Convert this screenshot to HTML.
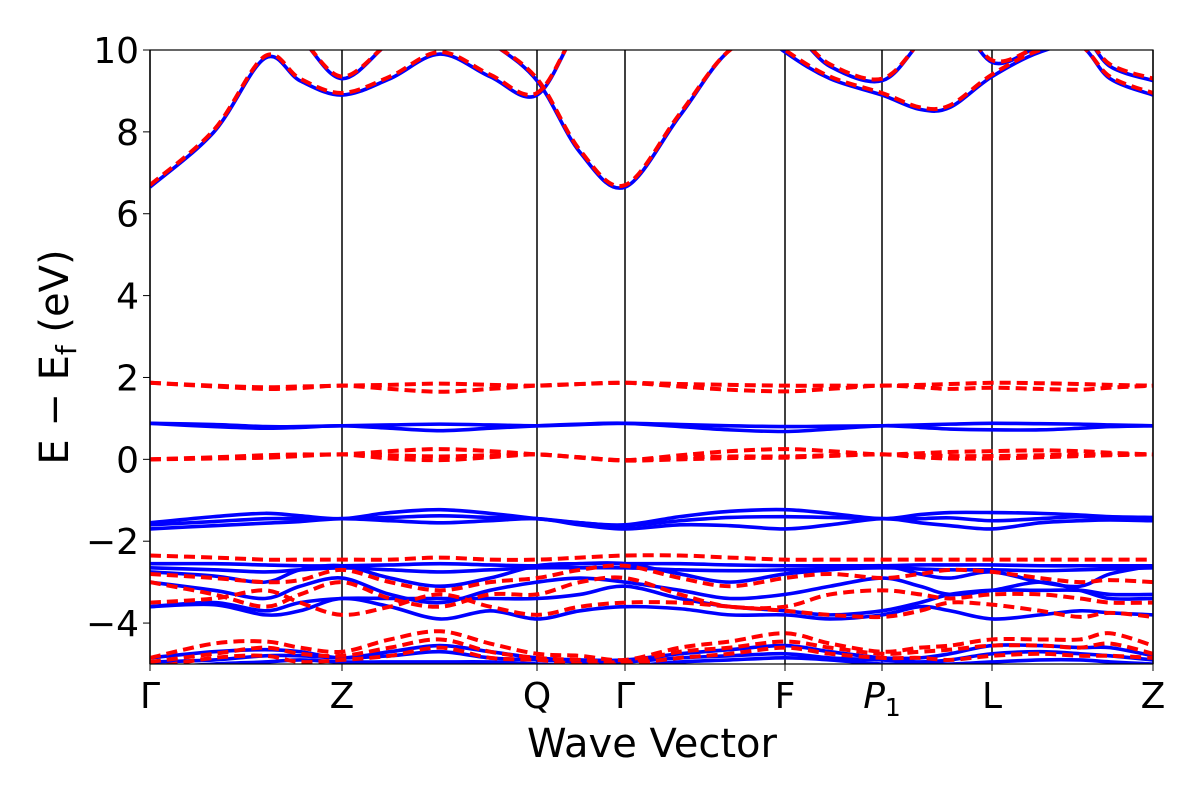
<!DOCTYPE html>
<html><head><meta charset="utf-8"><style>
body{margin:0;background:#fff}
svg text{font-family:"DejaVu Sans","Liberation Sans",sans-serif;fill:#000}
</style></head><body>
<svg id="chart" width="1200" height="800" viewBox="0 0 1200 800" xmlns="http://www.w3.org/2000/svg">
<defs><clipPath id="clip"><rect x="150" y="50" width="1003" height="614"/></clipPath></defs>
<rect width="1200" height="800" fill="#fff"/>
<g id="vlines"></g>
<g id="bands" clip-path="url(#clip)"></g>
<rect x="150" y="50" width="1003" height="614" fill="none" stroke="#000" stroke-width="1.2"/>
<g id="yticks"></g>
<g id="xticks"></g>
<text x="652" y="757" font-size="40" text-anchor="middle">Wave Vector</text>
<text transform="translate(68,357) rotate(-90)" font-size="40" text-anchor="middle">E − E<tspan font-size="28" dy="8">f</tspan><tspan dy="-8"> (eV)</tspan></text>
</svg>
<script>
const kPoints=[0,0.64,1.15,1.5,1.92,2.4,2.9,3.4,3.87,4.3,4.75,5.3,5.8,6.35,6.8,7.32,7.7,8.0,8.42,8.9,9.3,9.6,10.03];
const symPos=[0,1.92,3.87,4.75,6.35,7.32,8.42,10.03];
const symLabels=["Γ","Z","Q","Γ","F","P1","L","Z"];
const yTicks=[10,8,6,4,2,0,-2,-4];
const blueBands=[
[6.65,8.0,9.8,9.25,8.9,9.3,9.9,9.35,8.9,10.6,11.5,11.5,11,9.95,9.3,8.9,8.55,8.6,9.35,9.95,10.1,9.3,8.9],
[11,11,10.8,10.3,9.3,10.2,11,10.2,9.25,7.5,6.65,8.4,10,10.5,9.6,9.25,10.2,11,9.7,10.1,10.4,9.6,9.25],
[0.88,0.85,0.8,0.8,0.82,0.84,0.86,0.84,0.82,0.85,0.88,0.85,0.82,0.8,0.81,0.82,0.84,0.86,0.88,0.87,0.86,0.84,0.82],
[0.88,0.8,0.76,0.78,0.82,0.76,0.7,0.76,0.82,0.86,0.88,0.8,0.72,0.68,0.74,0.82,0.78,0.74,0.72,0.72,0.76,0.8,0.82],
[-1.55,-1.4,-1.32,-1.38,-1.45,-1.3,-1.23,-1.32,-1.45,-1.55,-1.6,-1.4,-1.27,-1.23,-1.32,-1.45,-1.35,-1.3,-1.3,-1.32,-1.36,-1.4,-1.42],
[-1.6,-1.52,-1.45,-1.45,-1.45,-1.42,-1.38,-1.42,-1.45,-1.55,-1.62,-1.5,-1.42,-1.4,-1.42,-1.45,-1.45,-1.43,-1.5,-1.45,-1.4,-1.45,-1.5],
[-1.7,-1.62,-1.56,-1.52,-1.45,-1.5,-1.55,-1.5,-1.45,-1.6,-1.7,-1.6,-1.62,-1.7,-1.6,-1.45,-1.55,-1.62,-1.7,-1.55,-1.5,-1.48,-1.5],
[-2.55,-2.55,-2.58,-2.6,-2.6,-2.58,-2.55,-2.58,-2.6,-2.55,-2.55,-2.55,-2.58,-2.6,-2.6,-2.6,-2.58,-2.58,-2.58,-2.6,-2.6,-2.6,-2.6],
[-2.65,-2.7,-2.75,-2.7,-2.65,-2.7,-2.75,-2.7,-2.65,-2.65,-2.65,-2.7,-2.72,-2.7,-2.68,-2.65,-2.68,-2.7,-2.7,-2.72,-2.7,-2.68,-2.65],
[-2.75,-2.85,-3.0,-2.7,-2.6,-2.9,-3.1,-2.9,-2.6,-2.55,-2.55,-2.8,-3.0,-2.8,-2.7,-2.6,-2.8,-2.9,-2.75,-3.0,-3.1,-2.8,-2.6],
[-3.0,-3.2,-3.4,-3.1,-2.9,-3.3,-3.5,-3.2,-3.0,-2.9,-3.0,-3.2,-3.4,-3.3,-3.1,-2.9,-3.1,-3.3,-3.2,-3.0,-3.2,-3.4,-3.4],
[-3.6,-3.5,-3.7,-3.5,-3.4,-3.4,-3.4,-3.4,-3.4,-3.3,-3.1,-3.4,-3.6,-3.7,-3.8,-3.7,-3.5,-3.3,-3.2,-3.2,-3.2,-3.3,-3.3],
[-3.6,-3.55,-3.8,-3.7,-3.4,-3.6,-3.9,-3.7,-3.9,-3.7,-3.6,-3.65,-3.8,-3.8,-3.9,-3.8,-3.6,-3.7,-3.9,-3.8,-3.7,-3.75,-3.8],
[-4.85,-4.7,-4.65,-4.7,-4.85,-4.7,-4.55,-4.7,-4.85,-4.9,-4.9,-4.75,-4.65,-4.55,-4.7,-4.85,-4.85,-4.75,-4.55,-4.55,-4.6,-4.6,-4.8],
[-4.95,-4.9,-4.8,-4.8,-4.85,-4.8,-4.7,-4.85,-4.9,-4.95,-4.95,-4.85,-4.8,-4.75,-4.85,-4.9,-4.95,-4.9,-4.75,-4.7,-4.75,-4.8,-4.9],
[-5.1,-5.0,-4.95,-4.9,-4.95,-4.95,-4.95,-4.95,-5.0,-5.05,-5.05,-4.95,-4.9,-4.85,-4.9,-5.0,-5.0,-5.0,-4.95,-4.9,-4.9,-4.95,-5.0]
];
const redBands=[
[6.7,8.05,9.85,9.3,8.95,9.35,9.95,9.4,8.95,10.6,11.5,11.5,11,10.0,9.35,8.95,8.6,8.65,9.4,10.0,10.1,9.35,8.95],
[11,11,10.8,10.3,9.35,10.2,11,10.2,9.3,7.55,6.7,8.45,10,10.5,9.65,9.3,10.2,11,9.75,10.1,10.4,9.65,9.3],
[1.87,1.8,1.76,1.78,1.8,1.82,1.85,1.82,1.8,1.84,1.87,1.84,1.82,1.8,1.8,1.8,1.82,1.84,1.87,1.86,1.84,1.82,1.8],
[1.87,1.78,1.72,1.74,1.8,1.72,1.65,1.72,1.8,1.84,1.87,1.78,1.7,1.66,1.72,1.8,1.76,1.72,1.75,1.72,1.7,1.75,1.8],
[0,0.05,0.1,0.12,0.12,0.2,0.25,0.2,0.12,0.05,-0.02,0.1,0.2,0.25,0.2,0.12,0.15,0.18,0.2,0.22,0.2,0.16,0.12],
[0,0.03,0.06,0.1,0.12,0.1,0.07,0.1,0.12,0.05,-0.02,0.04,0.07,0.07,0.1,0.12,0.1,0.08,0.08,0.1,0.12,0.12,0.12],
[0,0.02,0.04,0.08,0.12,0.02,-0.02,0.05,0.12,0.04,-0.03,0.0,0.03,0.04,0.08,0.12,0.05,0.02,0.02,0.05,0.08,0.1,0.12],
[-2.35,-2.4,-2.45,-2.45,-2.45,-2.45,-2.4,-2.45,-2.45,-2.4,-2.35,-2.35,-2.4,-2.45,-2.45,-2.45,-2.45,-2.45,-2.45,-2.45,-2.45,-2.45,-2.45],
[-2.8,-2.9,-3.0,-2.95,-2.7,-3.0,-3.2,-3.0,-2.9,-2.7,-2.6,-2.9,-3.1,-2.9,-2.8,-2.9,-2.8,-2.7,-2.75,-2.9,-3.0,-2.95,-3.0],
[-3.0,-3.3,-3.6,-3.3,-3.0,-3.4,-3.6,-3.3,-3.3,-3.0,-2.9,-3.3,-3.6,-3.6,-3.3,-3.2,-3.3,-3.4,-3.3,-3.3,-3.4,-3.5,-3.5],
[-3.5,-3.4,-3.2,-3.5,-3.8,-3.6,-3.3,-3.6,-3.8,-3.6,-3.5,-3.5,-3.6,-3.7,-3.8,-3.85,-3.7,-3.5,-3.55,-3.7,-3.85,-3.75,-3.85],
[-4.85,-4.5,-4.45,-4.6,-4.7,-4.4,-4.2,-4.5,-4.75,-4.8,-4.9,-4.6,-4.45,-4.25,-4.5,-4.7,-4.6,-4.55,-4.4,-4.4,-4.4,-4.25,-4.55],
[-4.95,-4.75,-4.6,-4.75,-4.8,-4.6,-4.4,-4.7,-4.85,-4.9,-4.95,-4.7,-4.6,-4.45,-4.6,-4.75,-4.7,-4.65,-4.55,-4.55,-4.6,-4.5,-4.75],
[-5.1,-4.85,-4.8,-4.95,-4.9,-4.8,-4.6,-4.85,-4.9,-5.0,-5.0,-4.85,-4.75,-4.6,-4.75,-4.85,-4.85,-4.9,-4.8,-4.75,-4.8,-4.8,-4.85]
];
const NS="http://www.w3.org/2000/svg";
const X0=150,X1=1153,Y10=50,Ym5=664;
const xs=k=>X0+(k-0)/(10.03)*(X1-X0);
const ys=e=>Y10+(10-e)/15*(Ym5-Y10);
function pathFor(vals){
  const p=kPoints.map((k,i)=>[xs(k),ys(vals[i])]);
  let d=`M${p[0][0]},${p[0][1]}`;
  for(let i=0;i<p.length-1;i++){
    const p0=p[i-1]||p[i],p1=p[i],p2=p[i+1],p3=p[i+2]||p[i+1];
    const c1=[p1[0]+(p2[0]-p0[0])/6,p1[1]+(p2[1]-p0[1])/6];
    const c2=[p2[0]-(p3[0]-p1[0])/6,p2[1]-(p3[1]-p1[1])/6];
    d+=` C${c1[0]},${c1[1]} ${c2[0]},${c2[1]} ${p2[0]},${p2[1]}`;
  }
  return d;
}
const gB=document.getElementById('bands');
blueBands.forEach((b,i)=>{
  const el=document.createElementNS(NS,'path');
  el.setAttribute('d',pathFor(b));
  el.setAttribute('fill','none');el.setAttribute('stroke','#0000ff');el.setAttribute('stroke-width','3.6');
  
  
  gB.appendChild(el);
});
redBands.forEach((b,i)=>{
  const el=document.createElementNS(NS,'path');
  el.setAttribute('d',pathFor(b));
  el.setAttribute('fill','none');el.setAttribute('stroke','#ff0000');el.setAttribute('stroke-width','4');
  el.setAttribute('stroke-dasharray','11,6');
  
  
  gB.appendChild(el);
});
const gV=document.getElementById('vlines'),gX=document.getElementById('xticks');
symPos.forEach((k,i)=>{
  const x=xs(k);
  const l=document.createElementNS(NS,'line');
  l.setAttribute('x1',x);l.setAttribute('x2',x);l.setAttribute('y1',50);l.setAttribute('y2',664);
  l.setAttribute('stroke','#000');l.setAttribute('stroke-width','1.5');
  
  
  gV.appendChild(l);
  const t=document.createElementNS(NS,'line');
  t.setAttribute('x1',x);t.setAttribute('x2',x);t.setAttribute('y1',664);t.setAttribute('y2',671);t.setAttribute('stroke','#000');
  gX.appendChild(t);
  const tx=document.createElementNS(NS,'text');
  tx.setAttribute('x',x);tx.setAttribute('y',708);tx.setAttribute('font-size','36');tx.setAttribute('text-anchor','middle');
  if(symLabels[i]==='P1'){tx.innerHTML='<tspan font-style="italic">P</tspan><tspan font-size="25" dy="8">1</tspan>';}
  else tx.textContent=symLabels[i];
  
  
  gX.appendChild(tx);
});
const gY=document.getElementById('yticks');
yTicks.forEach(v=>{
  const y=ys(v);
  const t=document.createElementNS(NS,'line');
  t.setAttribute('x1',143);t.setAttribute('x2',150);t.setAttribute('y1',y);t.setAttribute('y2',y);t.setAttribute('stroke','#000');
  gY.appendChild(t);
  const tx=document.createElementNS(NS,'text');
  tx.setAttribute('x',139);tx.setAttribute('y',y+13);tx.setAttribute('font-size','36');tx.setAttribute('text-anchor','end');
  tx.textContent=v<0?'−'+Math.abs(v):String(v);
  
  
  gY.appendChild(tx);
});
</script>
</body></html>
